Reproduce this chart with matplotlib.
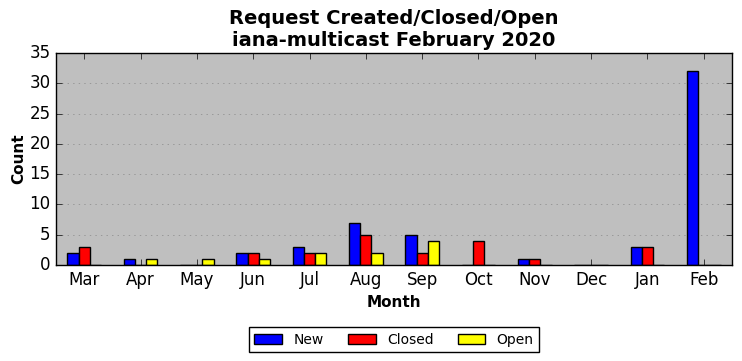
import numpy as np
import matplotlib
matplotlib.use("Agg")
import matplotlib.pyplot as plt

months = ["Mar", "Apr", "May", "Jun", "Jul", "Aug", "Sep", "Oct", "Nov", "Dec", "Jan", "Feb"]
new = [2, 1, 0, 2, 3, 7, 5, 0, 1, 0, 3, 32]
closed = [3, 0, 0, 2, 2, 5, 2, 4, 1, 0, 3, 0]
opened = [0, 1, 1, 1, 2, 2, 4, 0, 0, 0, 0, 0]

plt.style.use("classic")

fig = plt.figure(figsize=(7.42, 3.61), dpi=100)
ax = fig.add_axes([0.0755, 0.266, 0.911, 0.587])
ax.set_facecolor("#bfbfbf")

x = np.arange(len(months))
w = 0.2
ax.bar(x - w, new, w, align="center", color="blue", edgecolor="black", label="New")
ax.bar(x, closed, w, align="center", color="red", edgecolor="black", label="Closed")
ax.bar(x + w, opened, w, align="center", color="yellow", edgecolor="black", label="Open")

ax.set_xlim(-0.5, len(months) - 0.5)
ax.set_ylim(0, 35)
ax.set_xticks(x)
ax.set_xticklabels(months)
ax.set_yticks(range(0, 36, 5))
ax.yaxis.grid(True, linestyle=":", color="#888888")
ax.set_axisbelow(True)

ax.set_title("Request Created/Closed/Open\niana-multicast February 2020",
             fontsize=14, fontweight="bold")
ax.set_xlabel("Month", fontsize=11, fontweight="bold")
ax.set_ylabel("Count", fontsize=11, fontweight="bold", labelpad=2)

# legend under the axes
ax.legend(loc="upper center", bbox_to_anchor=(0.5, -0.26), ncol=3,
          fontsize=10, frameon=True, fancybox=False, columnspacing=1.75)

fig.savefig("out.png", dpi=100)
